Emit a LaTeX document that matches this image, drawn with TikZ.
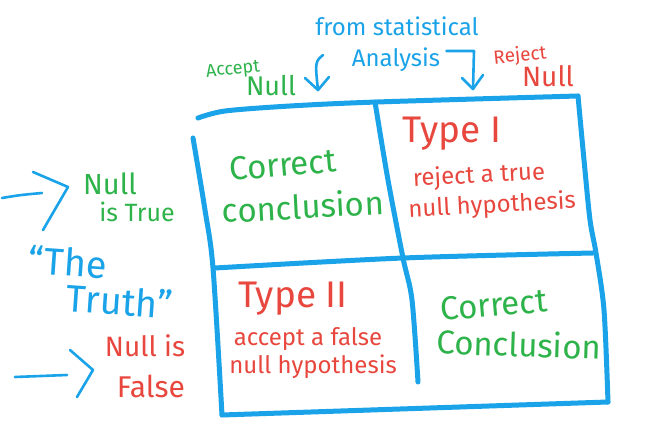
\documentclass[tikz,border=0pt]{standalone}
\usepackage{fontspec}
\setmainfont{Fira Sans}
\definecolor{pen}{HTML}{1AA3E8}
\definecolor{okgreen}{HTML}{2DB34A}
\definecolor{errred}{HTML}{E8473E}
\newcommand{\fsz}[1]{\fontsize{#1}{#1}\selectfont}
\begin{document}
\begin{tikzpicture}[x=1pt,y=-1pt,
  grid/.style={draw=pen, line width=5pt, line cap=round, line join=round},
  pencil/.style={draw=pen, line width=2.6pt, line cap=round, line join=round},
  lbl/.style={inner sep=0pt, anchor=center},
  good/.style={lbl, text=okgreen},
  bad/.style={lbl, text=errred},
  note/.style={lbl, text=pen}]
\useasboundingbox (0,0) rectangle (646,430);
\fill[white] (0,0) rectangle (646,430);

% the 2x2 table
\draw[grid] plot[smooth] coordinates {(198,118) (225,111) (290,106) (377,102) (578,96)};
\draw[grid] plot[smooth] coordinates {(578,96) (584,160) (590,220) (596,253) (604,310) (608,402)};
\draw[grid] (608,402) -- (222,415);
\draw[grid] plot[smooth] coordinates {(193,138) (205,210) (213,268) (222,415)};
\draw[grid] plot[smooth] coordinates {(375,102) (388,180) (403,258) (412,300) (418,382)};
\draw[grid] plot[smooth] coordinates {(215,268) (403,258) (593,253)};

% column heading
\node[note, font=\fsz{24}] (from) at (397,26) {from statistical};
\node[note, font=\fsz{24}] (analysis) at (396,60) {Analysis};
\node[good, font=\fsz{18}, rotate=6] (accept) at (233,70) {Accept};
\node[good, font=\fsz{27}] (accnull) at (271,86) {Null};
\node[bad, font=\fsz{19}, rotate=6] (reject) at (520,56) {Reject};
\node[bad, font=\fsz{28}] (rejnull) at (548,76) {Null};

\coordinate (accarrow) at (318,90);
\coordinate (rejarrow) at (473,89);
\draw[pencil] (323,55) .. controls (315,62) .. (accarrow);
\draw[pencil] (305,78) -- (accarrow) -- (329,77);
\draw[pencil] (analysis.east) ++(6,-9) -- (474,51) -- (rejarrow);
\draw[pencil] (462,78) -- (rejarrow) -- (483,75);

% row heading
\node[good, font=\fsz{29}] (nulltrue) at (110,184) {Null};
\node[good, font=\fsz{25}] (istrue) at (137,212) {is True};
\node[note, font=\fsz{38}, rotate=-4] (the) at (68,262) {``The};
\node[note, font=\fsz{38}, rotate=-4] (truth) at (120,301) {Truth''};
\node[bad, font=\fsz{28}] (nullis) at (145,346) {Null is};
\node[bad, font=\fsz{30}] (false) at (151,386) {False};

\coordinate (truetip) at (68,187);
\coordinate (falsetip) at (93,370);
\draw[pencil] (2,198) .. controls (20,195) .. (42,193);
\draw[pencil] (33,172) -- (truetip) -- (43,230);
\draw[pencil] (15,377) -- (67,375);
\draw[pencil] (70,350) -- (falsetip) -- (77,397);

% cells
\node[good, font=\fsz{33}, rotate=5] (corr1) at (283,165) {Correct};
\node[good, font=\fsz{33}, rotate=3] (concl1) at (303,206) {conclusion};
\node[bad, font=\fsz{37}] (type1) at (452,134) {Type I};
\node[bad, font=\fsz{24}, rotate=3] (rej1) at (479,176) {reject a true};
\node[bad, font=\fsz{24}, rotate=3] (hyp1) at (492,206) {null hypothesis};
\node[bad, font=\fsz{37}] (type2) at (293,299) {Type II};
\node[bad, font=\fsz{24}] (acc2) at (308,339) {accept a false};
\node[bad, font=\fsz{24}] (hyp2) at (313,367) {null hypothesis};
\node[good, font=\fsz{33}, rotate=5] (corr2) at (494,305) {Correct};
\node[good, font=\fsz{33}, rotate=-2] (concl2) at (519,344) {Conclusion};
\end{tikzpicture}
\end{document}
